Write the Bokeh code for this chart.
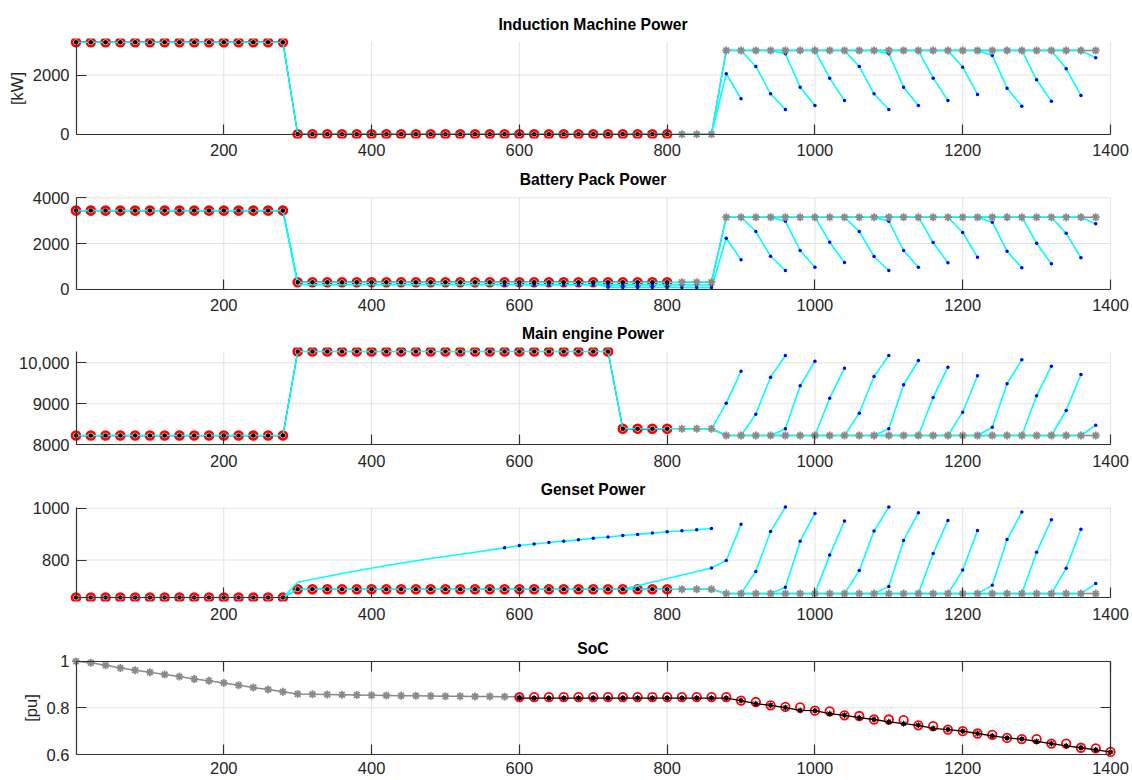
from bokeh.plotting import figure
from bokeh.models import LinearAxis, FixedTicker, Range1d
from bokeh.layouts import column
from bokeh.embed import file_html
from bokeh.resources import INLINE

# ---------------- data ----------------
t_actual = list(range(0, 801, 20))      # applied samples (red circles)
t_plan = list(range(820, 1381, 20))     # reference plan (grey stars)
pred_start = [860, 900, 940, 1000, 1040, 1080, 1140, 1180, 1220, 1280, 1320, 1360]
x_ticks = [200, 400, 600, 800, 1000, 1200, 1400]

# Induction machine [kW]
im_actual = [3110, 3110, 3110, 3110, 3110, 3110, 3110, 3110, 3110, 3110, 3110, 3110, 3110, 3110, 3110,
             0, 0, 0, 0, 0, 0, 0, 0, 0, 0, 0, 0, 0, 0, 0, 0, 0, 0, 0, 0, 0, 0, 0, 0, 0, 0]
im_plan = [0, 0, 0, 2832, 2832, 2832, 2832, 2832, 2832, 2832, 2832, 2832, 2832, 2832, 2832, 2832,
           2832, 2832, 2832, 2832, 2832, 2832, 2832, 2832, 2832, 2832, 2832, 2832, 2832]
im_pred = [[0, 2044, 1198], [2832, 2291, 1367, 836], [2832, 2720, 1591, 971], [2832, 1895, 1140],
           [2832, 2291, 1367, 836], [2832, 2720, 1591, 971], [2832, 1895, 1140], [2832, 2267, 1343],
           [2832, 2663, 1557, 948], [2832, 1840, 1117], [2832, 2213, 1310], [2832, 2585]]
im_lead_t, im_lead_v = [], []
im_long_t, im_long_v = [], []

# Battery pack [kW]
bat_actual = [3440, 3440, 3440, 3440, 3440, 3440, 3440, 3440, 3440, 3440, 3440, 3440, 3440, 3440, 3440,
              306, 306, 306, 306, 306, 306, 306, 306, 306, 306, 306, 306, 306, 306, 306, 306, 306, 306,
              306, 306, 306, 306, 306, 306, 306, 306]
bat_plan = [306, 306, 306, 3151, 3151, 3151, 3151, 3151, 3151, 3151, 3151, 3151, 3151, 3151, 3151, 3151,
            3151, 3151, 3151, 3151, 3151, 3151, 3151, 3151, 3151, 3151, 3151, 3151, 3151]
bat_pred = [[70, 2232, 1285], [3151, 2525, 1444, 818], [3151, 2976, 1694, 963], [3151, 2057, 1168],
            [3151, 2525, 1430, 818], [3151, 2976, 1694, 963], [3151, 2043, 1153], [3151, 2481, 1400],
            [3151, 2932, 1663, 935], [3151, 2013, 1110], [3151, 2451, 1372], [3151, 2861]]
bat_lead_t = [700, 720, 740, 760, 780, 800, 820, 840]
bat_lead_v = [306, 80, 78, 77, 75, 74, 72, 71]
bat_long_t = [280, 300, 580, 600, 620, 640, 660, 680, 700, 720, 740, 760, 780, 800, 820, 840, 860]
bat_long_v = [3440, 200, 192, 192, 191, 191, 190, 190, 190, 189, 189, 189, 188, 188, 188, 187, 187]
bat_long_dot_from = 2

# Main engine [kW]
me_actual = [8225, 8225, 8225, 8225, 8225, 8225, 8225, 8225, 8225, 8225, 8225, 8225, 8225, 8225, 8225,
             10275, 10275, 10275, 10275, 10275, 10275, 10275, 10275, 10275, 10275, 10275, 10275, 10275,
             10275, 10275, 10275, 10275, 10275, 10275, 10275, 10275, 10275, 8390, 8390, 8390, 8390]
me_plan = [8390, 8390, 8390, 8227, 8227, 8227, 8227, 8227, 8227, 8227, 8227, 8227, 8227, 8227, 8227, 8227,
           8227, 8227, 8227, 8227, 8227, 8227, 8227, 8227, 8227, 8227, 8227, 8227, 8227]
me_pred = [[8390, 9015, 9796], [8227, 8747, 9649, 10178], [8227, 8390, 9439, 10039], [8227, 9137, 9869],
           [8227, 8771, 9665, 10178], [8227, 8390, 9463, 10056], [8227, 9154, 9893], [8227, 8795, 9683],
           [8227, 8429, 9488, 10073], [8227, 9195, 9917], [8227, 8837, 9715], [8227, 8478]]
me_lead_t, me_lead_v = [], []
me_long_t, me_long_v = [], []

# Genset [kW]
gs_actual = [655, 655, 655, 655, 655, 655, 655, 655, 655, 655, 655, 655, 655, 655, 655,
             687, 687, 687, 687, 687, 687, 687, 687, 687, 687, 687, 687, 687, 687, 687, 687, 687, 687,
             687, 687, 687, 687, 687, 687, 687, 687]
gs_plan = [687, 687, 687, 670, 670, 670, 670, 670, 670, 670, 670, 670, 670, 670, 670, 670,
           670, 670, 670, 670, 670, 670, 670, 670, 670, 670, 670, 670, 670]
gs_pred = [[769, 798, 938], [670, 756, 910, 1005], [670, 695, 873, 980], [670, 819, 951],
           [670, 759, 912, 1005], [670, 698, 875, 983], [670, 825, 953], [670, 761, 914],
           [670, 702, 879, 986], [670, 830, 956], [670, 768, 919], [670, 709]]
gs_lead_t = [740]
gs_lead_v = [687]
gs_long_t = [280, 300, 360, 420, 480, 540, 580, 600, 620, 640, 660, 680, 700, 720, 740, 760, 780, 800,
             820, 840, 860]
gs_long_v = [655, 714, 748, 779, 806, 830, 847, 856, 862, 868, 873, 878, 884, 889, 895, 899, 904, 909,
             913, 917, 922]
gs_long_dot_from = 6

# SoC [pu]
t_soc_plan = list(range(0, 601, 20))
soc_plan = [1.0, 0.993, 0.983, 0.971, 0.961, 0.953, 0.943, 0.934, 0.924, 0.916, 0.907, 0.897, 0.887,
            0.879, 0.869, 0.859, 0.858, 0.857, 0.856, 0.855, 0.854, 0.853, 0.852, 0.852, 0.851, 0.850,
            0.850, 0.849, 0.849, 0.848, 0.848]
t_soc = list(range(600, 1401, 20))
soc_ref = [0.846, 0.846, 0.846, 0.846, 0.846, 0.846, 0.846, 0.846, 0.846, 0.846, 0.846, 0.846, 0.846,
           0.846, 0.846, 0.831, 0.825, 0.811, 0.804, 0.802, 0.788, 0.785, 0.768, 0.765, 0.750, 0.750,
           0.747, 0.725, 0.722, 0.707, 0.700, 0.690, 0.684, 0.671, 0.666, 0.666, 0.647, 0.647, 0.629,
           0.626, 0.611]
soc_act = [0.842, 0.842, 0.842, 0.842, 0.842, 0.842, 0.842, 0.842, 0.842, 0.842, 0.842, 0.842, 0.842,
           0.842, 0.842, 0.831, 0.818, 0.811, 0.801, 0.789, 0.788, 0.775, 0.768, 0.758, 0.750, 0.740,
           0.732, 0.725, 0.712, 0.707, 0.700, 0.690, 0.680, 0.671, 0.666, 0.656, 0.647, 0.637, 0.629,
           0.620, 0.611]

# ---------------- styling / layout ----------------
FONT = "Liberation Sans"
CYAN, BLUE, GREY, RED = "#00FFFF", "#0000FF", "#8A8A8A", "#FF0000"
AXC = "#333333"
TXT = "#262626"
GRIDC = "#E3E3E3"
W = 1132
AX_L, AX_R = 75.5, 1110.0
FR_L, FR_R = 69, 1116
YPAD = 4
X_LABEL_GAP = 9.5
Y_LABEL_GAP = 7.0


def make_fig(fig_top, fig_bot, ax_top, ax_bot, ymin, ymax, yticks, title, title_base, ylabel=None,
             overrides=None, box=False, xgap=X_LABEL_GAP):
    H = fig_bot - fig_top
    bt = int(round(ax_top - YPAD - fig_top))
    bb = int(round(fig_bot - (ax_bot + YPAD)))
    ftop, fbot = fig_top + bt, fig_bot - bb
    ppu = (ax_bot - ax_top) / (ymax - ymin)
    y0 = ymin - (fbot - ax_bot) / ppu
    y1 = ymax + (ax_top - ftop) / ppu
    xppu = (AX_R - AX_L) / 1400.0
    x0 = -(AX_L - FR_L) / xppu
    x1 = 1400 + (FR_R - AX_R) / xppu
    p = figure(width=W, height=H, x_range=Range1d(x0, x1), y_range=Range1d(y0, y1),
               x_axis_type=None, y_axis_type=None, toolbar_location=None, output_backend="svg",
               min_border_left=FR_L, min_border_right=W - FR_R,
               min_border_top=bt, min_border_bottom=bb, outline_line_color=None,
               background_fill_color="white", border_fill_color="white")
    p.title.text = title
    p.title.align = "center"
    p.title.text_font = FONT
    p.title.text_font_size = "15.7px"
    p.title.text_font_style = "bold"
    p.title.text_color = "black"
    p.title.standoff = max(0.0, ftop - title_base)

    # grid lines
    p.segment(x0=x_ticks, y0=[ymin] * len(x_ticks), x1=x_ticks, y1=[ymax] * len(x_ticks),
              line_color=GRIDC, line_width=1)
    p.segment(x0=[0] * len(yticks), y0=yticks, x1=[1400] * len(yticks), y1=yticks,
              line_color=GRIDC, line_width=1)

    def line_axis(ax):
        ax.axis_line_color = AXC
        ax.axis_line_width = 1.2
        ax.major_tick_line_color = AXC
        ax.major_tick_line_width = 1.2
        ax.minor_tick_in = 0
        ax.minor_tick_out = 0
        ax.major_label_text_color = None

    def label_axis(ax):
        ax.axis_line_color = None
        ax.major_tick_line_color = None
        ax.major_tick_in = 0
        ax.major_tick_out = 0
        ax.minor_tick_in = 0
        ax.minor_tick_out = 0
        ax.major_label_text_font = FONT
        ax.major_label_text_font_size = "16.5px"
        ax.major_label_text_color = TXT

    # axis lines and inward ticks drawn at the data limits
    xa = LinearAxis(fixed_location=ymin, bounds=(0, 1400), ticker=FixedTicker(ticks=x_ticks))
    line_axis(xa)
    xa.major_tick_in, xa.major_tick_out = 10, 0
    p.add_layout(xa, "below")
    ya = LinearAxis(fixed_location=0, bounds=(ymin, ymax), ticker=FixedTicker(ticks=yticks))
    line_axis(ya)
    ya.major_tick_in, ya.major_tick_out = 10, 0
    p.add_layout(ya, "left")

    # tick labels at the frame edges
    xl = LinearAxis(ticker=FixedTicker(ticks=x_ticks))
    label_axis(xl)
    xl.major_label_standoff = max(0, int(round(xgap - (fbot - ax_bot))))
    p.add_layout(xl, "below")
    yl = LinearAxis(ticker=FixedTicker(ticks=yticks))
    label_axis(yl)
    yl.major_label_standoff = max(0, int(round(Y_LABEL_GAP - (AX_L - FR_L))))
    if overrides:
        yl.major_label_overrides = overrides
    if ylabel:
        yl.axis_label = ylabel
        yl.axis_label_text_font = FONT
        yl.axis_label_text_font_size = "16.5px"
        yl.axis_label_text_font_style = "normal"
        yl.axis_label_text_color = TXT
        yl.axis_label_standoff = 4
    p.add_layout(yl, "left")

    if box:
        ta = LinearAxis(fixed_location=ymax, bounds=(0, 1400), ticker=FixedTicker(ticks=x_ticks))
        line_axis(ta)
        ta.major_tick_in, ta.major_tick_out = 0, 10
        p.add_layout(ta, "below")
        ra = LinearAxis(fixed_location=1400, bounds=(ymin, ymax), ticker=FixedTicker(ticks=yticks))
        line_axis(ra)
        ra.major_tick_in, ra.major_tick_out = 0, 10
        p.add_layout(ra, "left")
    return p


def draw_power(p, actual, plan, preds, lead_t, lead_v, long_t, long_v, long_dot_from):
    p.line(t_plan, plan, line_color=GREY, line_width=1.5)
    p.scatter(t_actual, actual, marker="circle", size=8, fill_color=None, line_color=RED, line_width=2.6)
    p.line(t_actual, actual, line_color="black", line_width=1.2)
    p.line(t_actual + t_plan[:-1], actual + plan[:-1], line_color=CYAN, line_width=1.6)
    dx, dy = [], []
    if long_t:
        p.line(long_t, long_v, line_color=CYAN, line_width=1.6)
        dx += long_t[long_dot_from:]
        dy += long_v[long_dot_from:]
    for i, (t0, vals) in enumerate(zip(pred_start, preds)):
        ts = [t0 + 20 * k for k in range(len(vals))]
        vs = list(vals)
        if i == 0 and lead_t:
            ts = lead_t + ts
            vs = lead_v + vs
        p.line(ts, vs, line_color=CYAN, line_width=1.6)
        dx += ts[1:]
        dy += vs[1:]
    p.scatter(dx, dy, marker="circle", size=3.5, fill_color=BLUE, line_color=None)
    p.scatter(t_plan, plan, marker="asterisk", size=8, line_color=GREY, line_width=1.8)
    p.scatter(t_actual, actual, marker="circle", size=4.5, fill_color="black", line_color=None)


p1 = make_fig(0, 163, 41.7, 133.7, 0, 3110, [0, 2000], "Induction Machine Power", 26.7, ylabel="[kW]")
draw_power(p1, im_actual, im_plan, im_pred, im_lead_t, im_lead_v, im_long_t, im_long_v, 0)

p2 = make_fig(163, 318, 197.3, 288.7, 0, 4000, [0, 2000, 4000], "Battery Pack Power", 182.8)
draw_power(p2, bat_actual, bat_plan, bat_pred, bat_lead_t, bat_lead_v, bat_long_t, bat_long_v,
           bat_long_dot_from)

p3 = make_fig(318, 473, 351, 444.3, 8000, 10275, [8000, 9000, 10000], "Main engine Power", 336.7,
              overrides={10000: "10,000"})
draw_power(p3, me_actual, me_plan, me_pred, me_lead_t, me_lead_v, me_long_t, me_long_v, 0)

p4 = make_fig(473, 630, 506.5, 597, 655, 1005, [800, 1000], "Genset Power", 492.7)
draw_power(p4, gs_actual, gs_plan, gs_pred, gs_lead_t, gs_lead_v, gs_long_t, gs_long_v, gs_long_dot_from)

p5 = make_fig(630, 780, 660.7, 754, 0.6, 1.0, [0.6, 0.8, 1.0], "SoC", 655.5, ylabel="[pu]",
              overrides={1: "1"}, box=True, xgap=7.0)
p5.line(t_soc_plan, soc_plan, line_color=GREY, line_width=1.5)
p5.scatter(t_soc_plan, soc_plan, marker="asterisk", size=8, line_color=GREY, line_width=1.8)
p5.scatter(t_soc, soc_ref, marker="circle", size=8.5, fill_color=None, line_color=RED, line_width=1.8)
p5.line(t_soc, soc_act, line_color="black", line_width=1.3)
p5.scatter(t_soc, soc_act, marker="circle", size=4.5, fill_color="black", line_color=None)
p5.scatter(t_soc, soc_act, marker="asterisk", size=6, line_color="black", line_width=1)

layout = column(p1, p2, p3, p4, p5, spacing=0)
open("out.html", "w").write(file_html(layout, INLINE))
